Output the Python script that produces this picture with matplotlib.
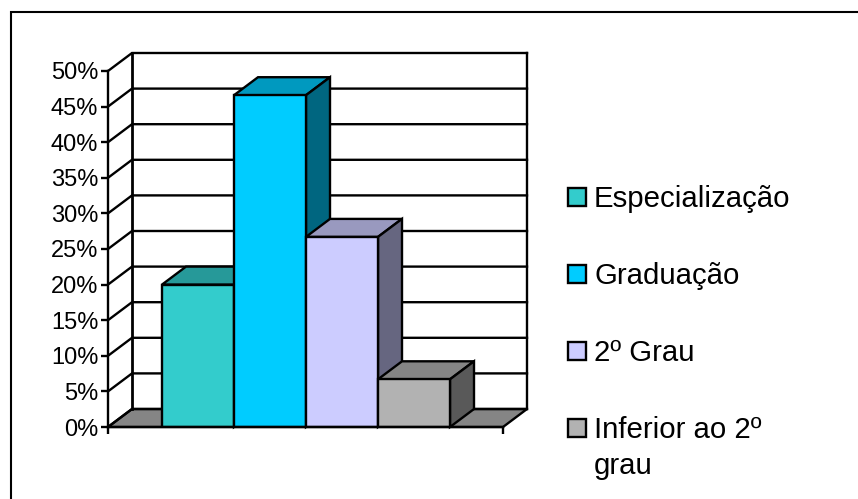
import matplotlib
matplotlib.use('Agg')
import matplotlib.pyplot as plt
from matplotlib.patches import Polygon, Rectangle

plt.rcParams['font.family'] = ['Liberation Sans', 'DejaVu Sans']

categories = ['Especialização', 'Graduação', '2º Grau', 'Inferior ao 2º\ngrau']
values = [20, 46.6, 26.7, 6.7]
front_colors = ['#33CCCC', '#00CCFF', '#CCCCFF', '#B2B2B2']
top_colors = ['#269999', '#0099BF', '#9999BF', '#858585']
side_colors = ['#1A6666', '#006680', '#666680', '#595959']
y_ticks = list(range(0, 55, 5))
y_labels = [f'{t}%' for t in y_ticks]

W, H = 858, 499
DX, DY = 24 / 72, 18 / 7.12  # profundidade 3D em unidades de dados
LW = 1.7

fig = plt.figure(figsize=(W / 100, H / 100), dpi=100, facecolor='white')

# moldura externa, corta na direita e embaixo
fig.add_artist(Rectangle((11 / W, -0.1), 1.1, 1 - 12 / H + 0.1, transform=fig.transFigure,
                         facecolor='white', edgecolor='black', linewidth=1.5, zorder=-1))

ax = fig.add_axes([108 / W, 1 - 427 / H, 395 / W, 356 / H])
ax.patch.set_visible(False)
x0, x1 = -0.75, 4.736
ax.set_xlim(x0, x1)
ax.set_ylim(0, 50)
for s in ['top', 'right']:
    ax.spines[s].set_visible(False)
for s in ['left', 'bottom']:
    ax.spines[s].set_linewidth(LW)
ax.set_yticks(y_ticks)
ax.set_yticklabels(y_labels, fontsize=17)
ax.set_xticks([x0, x1])
ax.set_xticklabels([])
ax.tick_params(length=5, width=LW, pad=2)

# chao e paredes
ax.add_patch(Polygon([(x0, 0), (x1, 0), (x1 + DX, DY), (x0 + DX, DY)], closed=True,
                     facecolor='#858585', edgecolor='black', linewidth=LW, clip_on=False, zorder=1))
for t in y_ticks:
    ax.plot([x0, x0 + DX, x1 + DX], [t, t + DY, t + DY], color='black', lw=LW,
            clip_on=False, zorder=1.5, solid_joinstyle='miter')
ax.plot([x0 + DX, x0 + DX], [DY, 50 + DY], color='black', lw=LW + 0.3, clip_on=False, zorder=1.5)
ax.plot([x1 + DX, x1 + DX], [DY, 50 + DY], color='black', lw=LW, clip_on=False, zorder=1.5)

# barras
for i, v in enumerate(values):
    z = 2 + i * 0.1
    ax.add_patch(Polygon([(i, v), (i + 1, v), (i + 1 + DX, v + DY), (i + DX, v + DY)], closed=True,
                         facecolor=top_colors[i], edgecolor='black', linewidth=LW, clip_on=False, zorder=z))
    ax.add_patch(Polygon([(i + 1, 0), (i + 1 + DX, DY), (i + 1 + DX, v + DY), (i + 1, v)], closed=True,
                         facecolor=side_colors[i], edgecolor='black', linewidth=LW, clip_on=False, zorder=z))
    ax.bar(i, v, width=1, align='edge', color=front_colors[i], edgecolor='black', linewidth=LW, zorder=z + 0.05)

# legenda manual: o quadrado fica alinhado com a primeira linha
for i, (label, c) in enumerate(zip(categories, front_colors)):
    cy = 197 + i * 77
    fig.add_artist(Rectangle((567.5 / W, 1 - (cy + 9) / H), 18 / W, 18 / H, transform=fig.transFigure,
                             facecolor=c, edgecolor='black', linewidth=1.7))
    fig.text(594 / W, 1 - (cy - 12) / H, label, fontsize=21.2, ha='left', va='top', linespacing=1.35)

fig.savefig('out.png', dpi=100)
